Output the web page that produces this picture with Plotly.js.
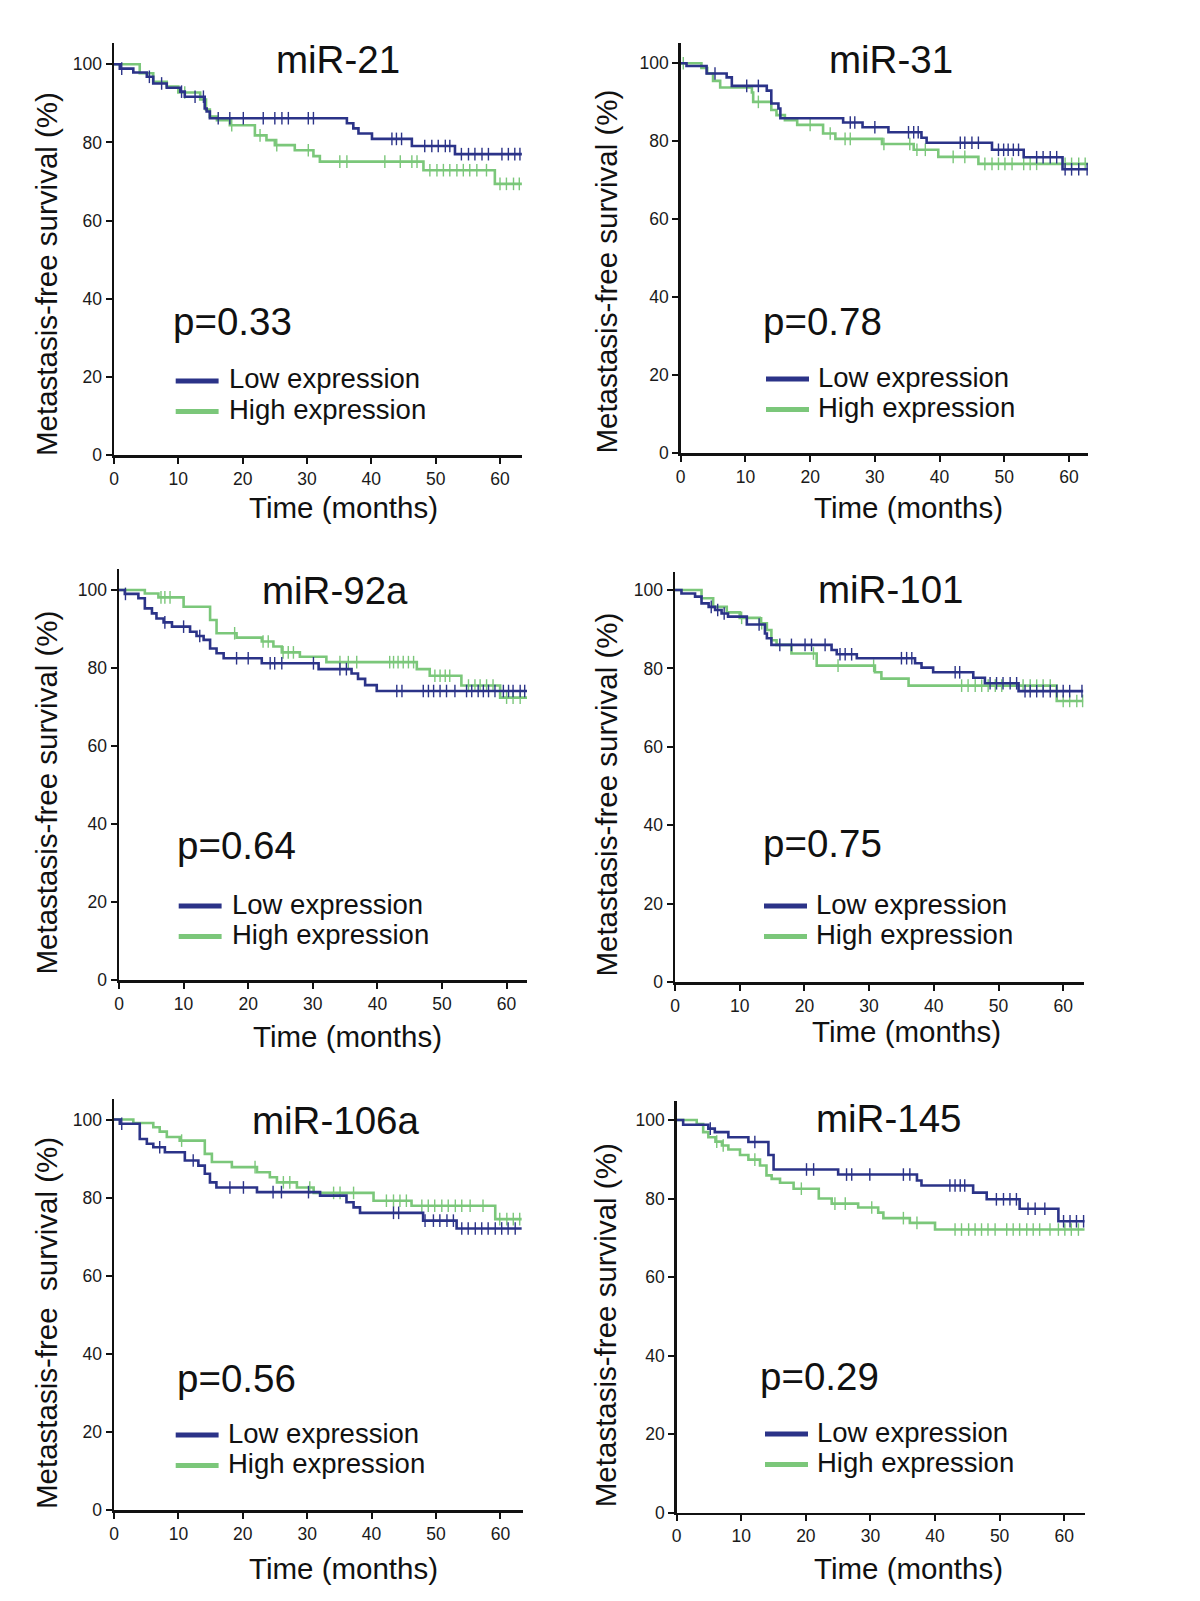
<!DOCTYPE html>
<html>
<head>
<meta charset="utf-8">
<script src="https://cdn.plot.ly/plotly-3.0.1.min.js"></script>
<style>html,body{margin:0;padding:0;background:#fff;}#chart{width:1200px;height:1601px;}</style>
</head>
<body>
<div id="chart"></div>
<script>
// ---------------- DATA ----------------
const panelNames = ['miR-21', 'miR-31', 'miR-92a', 'miR-101', 'miR-106a', 'miR-145'];
const pValueLabels = ['p=0.33', 'p=0.78', 'p=0.64', 'p=0.75', 'p=0.56', 'p=0.29'];
const seriesNames = ['Low expression', 'High expression'];
const xTickVals = [0, 10, 20, 30, 40, 50, 60];
const yTickVals = [0, 20, 40, 60, 80, 100];
const xAxisTitle = 'Time (months)';
const yAxisTitles = ['Metastasis-free survival (%)', 'Metastasis-free survival (%)', 'Metastasis-free survival (%)',
  'Metastasis-free survival (%)', 'Metastasis-free\u00a0 survival (%)', 'Metastasis-free survival (%)'];

// miR-21
const mir21LowT = [0, 0.9, 3.0, 5.1, 6.1, 8.2, 10.3, 11.0, 14.1, 14.4, 14.9, 36.2, 37.2, 38.0, 40.1, 46.3, 53.0, 63.4];
const mir21LowS = [100, 98.9, 97.9, 96.8, 95.1, 94.0, 93.0, 91.7, 88.7, 87.9, 86.2, 84.9, 83.6, 82.3, 80.9, 79.1, 77.0, 77.0];
const mir21LowCensor = [1.2, 5.5, 7.4, 10.5, 12.6, 13.9, 16.2, 18.0, 20.1, 23.2, 25.0, 26.1, 27.1, 30.2, 31.0, 43.2, 43.9, 44.7, 48.3, 49.4, 50.4, 51.5, 52.2, 54.0, 55.1, 56.1, 57.2, 58.2, 60.3, 61.3, 62.3, 63.1];
const mir21HighT = [0, 4.0, 6.1, 8.2, 10.0, 13.4, 14.3, 14.9, 16.0, 18.0, 21.9, 23.7, 25.0, 28.1, 31.0, 32.0, 48.1, 59.2, 63.4];
const mir21HighS = [100, 97.7, 95.5, 94.3, 92.8, 91.0, 88.4, 86.6, 85.7, 84.4, 81.8, 80.6, 79.3, 78.0, 76.5, 75.1, 72.9, 69.4, 69.4];
const mir21HighCensor = [11.0, 18.3, 22.7, 25.3, 30.2, 35.1, 36.2, 42.1, 44.5, 46.3, 47.1, 49.1, 50.2, 51.2, 52.2, 53.3, 54.3, 55.3, 56.4, 57.9, 60.0, 61.0, 62.1, 63.0];

// miR-31
const mir31LowT = [0, 0.9, 4.0, 7.1, 7.9, 13.3, 14.0, 15.1, 15.4, 25.1, 28.1, 32.1, 37.2, 38.0, 48.1, 53.0, 59.0, 63.0];
const mir31LowS = [100, 99.3, 97.4, 96.4, 94.2, 93.0, 89.7, 88.4, 85.9, 84.8, 83.6, 82.3, 80.9, 79.6, 77.8, 75.9, 72.8, 72.8];
const mir31LowCensor = [5.3, 10.2, 12.0, 26.2, 26.9, 30.0, 35.2, 36.0, 36.7, 43.2, 43.9, 45.0, 46.0, 49.1, 49.9, 50.6, 51.4, 52.2, 55.0, 56.0, 57.1, 58.1, 59.4, 60.4, 61.5, 62.8];
const mir31HighT = [0, 3.2, 4.1, 5.0, 6.1, 11.0, 11.2, 14.0, 14.8, 16.1, 18.0, 22.0, 23.9, 31.1, 36.0, 39.8, 46.0, 63.0];
const mir31HighS = [100, 98.8, 97.4, 95.5, 93.8, 92.5, 90.1, 88.0, 86.7, 85.4, 84.2, 82.0, 80.6, 79.3, 77.8, 76.0, 74.2, 74.2];
const mir31HighCensor = [0.4, 12.0, 20.0, 23.1, 25.4, 26.2, 31.4, 35.4, 36.5, 37.8, 42.1, 43.9, 47.0, 48.1, 49.1, 50.1, 51.2, 53.0, 54.0, 55.0, 59.4, 60.4, 61.5, 62.5];

// miR-92a
const mir92aLowT = [0, 0.9, 3.0, 4.0, 5.1, 5.8, 6.9, 8.2, 11.0, 12.0, 13.1, 14.1, 15.1, 16.2, 22.1, 30.9, 36.0, 37.0, 38.1, 39.9, 63.2];
const mir92aLowS = [100, 99.0, 97.9, 95.3, 94.0, 92.7, 91.7, 90.6, 89.3, 88.2, 87.2, 85.0, 83.8, 82.5, 81.2, 79.7, 78.6, 77.2, 75.6, 74.1, 74.1];
const mir92aLowCensor = [1.0, 7.1, 10.0, 12.5, 18.2, 20.0, 23.4, 24.1, 25.2, 30.1, 34.2, 35.2, 43.0, 43.8, 47.1, 47.9, 48.7, 49.7, 50.7, 52.0, 53.8, 54.6, 55.6, 56.4, 57.2, 58.2, 59.5, 60.3, 61.0, 62.1, 62.8];
const mir92aHighT = [0, 4.0, 6.1, 10.0, 14.1, 15.1, 18.2, 22.1, 23.9, 25.2, 28.0, 32.1, 46.1, 48.1, 53.0, 59.0, 63.2];
const mir92aHighS = [100, 99.1, 98.1, 95.7, 92.3, 88.9, 87.8, 86.8, 85.5, 84.0, 82.9, 81.5, 79.7, 78.0, 75.5, 72.4, 72.4];
const mir92aHighCensor = [6.5, 7.1, 7.9, 17.9, 22.3, 23.1, 25.4, 26.2, 27.0, 34.2, 35.5, 36.8, 41.9, 42.5, 43.2, 44.0, 44.8, 45.6, 48.9, 49.7, 50.5, 51.2, 54.1, 55.1, 55.9, 56.9, 57.9, 60.0, 61.0, 62.1];

// miR-101
const mir101LowT = [0, 1.0, 3.1, 4.1, 5.2, 6.2, 7.2, 8.2, 11.1, 13.9, 14.2, 14.9, 24.2, 25.0, 28.1, 37.1, 38.1, 39.9, 46.1, 47.9, 53.1, 63.1];
const mir101LowS = [100, 99.1, 98.3, 96.6, 95.7, 94.9, 94.0, 93.2, 91.2, 88.9, 87.7, 86.0, 84.7, 83.6, 82.6, 81.3, 80.2, 79.0, 77.6, 76.2, 74.2, 74.2];
const mir101LowCensor = [5.6, 6.6, 7.6, 13.0, 16.2, 18.0, 20.1, 21.1, 23.2, 25.5, 26.3, 27.3, 35.0, 35.8, 36.6, 43.3, 44.0, 48.7, 49.7, 50.7, 51.8, 52.8, 54.1, 54.9, 55.9, 56.9, 58.0, 59.0, 60.0, 61.0, 62.9];
const mir101HighT = [0, 4.1, 5.9, 8.0, 10.0, 13.1, 14.2, 14.9, 15.7, 18.0, 21.9, 30.9, 31.9, 36.1, 59.0, 63.1];
const mir101HighS = [100, 97.9, 95.7, 94.3, 92.9, 91.5, 89.8, 87.2, 86.0, 83.8, 80.7, 79.0, 77.4, 75.6, 71.7, 71.7];
const mir101HighCensor = [10.3, 13.4, 21.4, 25.2, 30.7, 44.3, 45.3, 46.4, 47.4, 48.4, 49.5, 50.5, 53.8, 54.9, 55.9, 56.9, 58.0, 60.0, 61.0, 62.1, 63.0];

// miR-106a
const mir106aLowT = [0, 0.9, 4.0, 5.1, 6.1, 7.9, 11.0, 13.1, 14.1, 14.9, 15.9, 22.2, 32.0, 36.1, 37.2, 38.2, 48.0, 53.2, 63.3];
const mir106aLowS = [100, 98.9, 95.0, 93.8, 92.9, 91.6, 89.5, 88.2, 86.1, 83.9, 82.6, 81.4, 80.5, 78.8, 77.5, 76.1, 74.1, 72.1, 72.1];
const mir106aLowCensor = [1.2, 7.1, 12.3, 18.0, 20.1, 24.7, 26.0, 30.2, 43.4, 44.2, 48.3, 49.6, 50.6, 51.7, 52.7, 54.0, 55.0, 56.1, 57.1, 58.1, 59.2, 60.2, 61.2, 62.3];
const mir106aHighT = [0, 3.0, 6.1, 7.1, 8.2, 10.2, 14.1, 15.2, 18.3, 22.2, 24.2, 25.3, 28.4, 31.0, 40.3, 46.2, 59.2, 63.3];
const mir106aHighS = [100, 99.1, 98.0, 96.9, 95.5, 94.6, 91.2, 89.1, 87.8, 86.5, 85.2, 83.9, 82.6, 81.2, 79.2, 77.9, 74.5, 74.5];
const mir106aHighCensor = [10.5, 21.9, 26.3, 27.3, 30.4, 34.1, 35.1, 37.2, 42.3, 43.4, 44.4, 45.4, 47.8, 48.8, 49.8, 50.9, 51.9, 53.0, 54.0, 55.3, 57.3, 59.9, 61.0, 62.0, 63.0];

// miR-145
const mir145LowT = [0, 1.0, 4.9, 5.9, 8.0, 11.1, 14.2, 15.0, 25.0, 37.2, 37.9, 45.9, 48.0, 53.1, 59.1, 63.2];
const mir145LowS = [100, 98.8, 97.8, 96.9, 95.6, 94.4, 91.1, 87.4, 86.1, 84.6, 83.3, 81.5, 79.8, 77.4, 74.2, 74.2];
const mir145LowCensor = [5.2, 12.1, 20.1, 21.2, 26.3, 27.1, 29.9, 35.1, 36.1, 42.3, 43.1, 43.9, 44.6, 49.5, 50.6, 51.6, 52.6, 54.4, 55.5, 57.0, 59.9, 60.9, 61.9, 63.0];
const mir145HighT = [0, 3.1, 4.1, 4.9, 6.0, 7.0, 8.0, 9.8, 11.1, 12.9, 13.9, 14.7, 16.0, 18.1, 22.0, 24.0, 28.1, 31.2, 32.0, 36.1, 40.0, 63.2];
const mir145HighS = [100, 99.0, 96.9, 95.6, 94.5, 93.5, 92.5, 91.1, 89.9, 88.4, 85.9, 85.0, 84.0, 82.5, 80.0, 78.7, 77.7, 76.4, 75.0, 73.8, 72.1, 72.1];
const mir145HighCensor = [6.2, 7.2, 12.1, 19.3, 24.5, 26.1, 30.2, 35.1, 37.2, 43.1, 44.1, 45.2, 46.2, 47.2, 48.2, 49.3, 51.1, 52.1, 53.1, 54.2, 55.2, 56.2, 57.8, 59.1, 60.1, 61.1, 62.2];

const lowTimes = [mir21LowT, mir31LowT, mir92aLowT, mir101LowT, mir106aLowT, mir145LowT];
const lowSurv = [mir21LowS, mir31LowS, mir92aLowS, mir101LowS, mir106aLowS, mir145LowS];
const lowCensor = [mir21LowCensor, mir31LowCensor, mir92aLowCensor, mir101LowCensor, mir106aLowCensor, mir145LowCensor];
const highTimes = [mir21HighT, mir31HighT, mir92aHighT, mir101HighT, mir106aHighT, mir145HighT];
const highSurv = [mir21HighS, mir31HighS, mir92aHighS, mir101HighS, mir106aHighS, mir145HighS];
const highCensor = [mir21HighCensor, mir31HighCensor, mir92aHighCensor, mir101HighCensor, mir106aHighCensor, mir145HighCensor];

// ---------------- STYLE / LAYOUT ----------------
const W = 1200, H = 1601;
const FONT = 'Liberation Sans, Arial, Helvetica, sans-serif';
const LOW_COLOR = '#2b3388';
const HIGH_COLOR = '#7bc77a';
const AXIS_COLOR = '#111111';

// panel pixel geometry (axis origin, 60-month tick, axis ends)
const geom = [
  {x0: 114, x60: 500, xEnd: 522, y0: 455, y100: 64.3, yTop: 43},
  {x0: 680.7, x60: 1069, xEnd: 1088, y0: 453, y100: 63.3, yTop: 43},
  {x0: 119, x60: 506.6, xEnd: 527, y0: 980, y100: 590, yTop: 569},
  {x0: 675, x60: 1063.2, xEnd: 1083.6, y0: 982, y100: 590, yTop: 572},
  {x0: 114, x60: 500.4, xEnd: 523, y0: 1510, y100: 1119.5, yTop: 1099},
  {x0: 676.7, x60: 1064.2, xEnd: 1084.6, y0: 1512.6, y100: 1120, yTop: 1101}
];
// text placement in pixels
const titlePos = [[338, 59], [890.6, 59], [335, 590], [890.6, 589], [335, 1120], [888.5, 1118]];
const pPos = [[171, 321.7], [761, 321.7], [175, 845.6], [761, 843.6], [175, 1378.8], [758, 1376.7]];
const legendPos = [ // swatch x0, x1, low y, high y, text left
  [175.7, 218.6, 381, 411.6, 226.5],
  [766, 809, 379, 409.5, 816],
  [178.7, 221.6, 906, 936.5, 229.5],
  [764, 807, 906, 936.5, 814],
  [175.7, 218.6, 1435, 1465.6, 225.5],
  [765, 808, 1434, 1464.6, 815]
];
const xTitlePos = [[343, 507.6], [909, 507.6], [347, 1036.6], [906, 1031.5], [343, 1568.7], [908, 1568.7]];
const yTitlePos = [[46, 274], [605.6, 272], [46, 792.5], [605.6, 795], [46, 1323], [605.6, 1325.6]];

const px = v => v / W;
const py = v => 1 - v / H;

function stepValue(times, surv, t) {
  let v = surv[0];
  for (let i = 0; i < times.length; i++) { if (times[i] <= t) v = surv[i]; }
  return v;
}

const data = [];
const layout = {
  width: W, height: H,
  margin: {l: 0, r: 0, t: 0, b: 0},
  paper_bgcolor: '#ffffff', plot_bgcolor: 'rgba(0,0,0,0)',
  showlegend: false,
  font: {family: FONT, color: '#111'},
  annotations: [], shapes: []
};

for (let i = 0; i < 6; i++) {
  const g = geom[i];
  const sfx = i === 0 ? '' : String(i + 1);
  const xa = 'x' + sfx, ya = 'y' + sfx;
  const xMax = 60 * (g.xEnd - g.x0) / (g.x60 - g.x0);
  const yMax = 100 * (g.y0 - g.yTop) / (g.y0 - g.y100);

  const axisCommon = {
    showline: true, linecolor: AXIS_COLOR, linewidth: 2.5,
    ticks: 'outside', ticklen: 6, tickwidth: 2, tickcolor: AXIS_COLOR,
    showgrid: false, zeroline: false, fixedrange: true,
    tickfont: {family: FONT, size: 17.5, color: '#1a1a1a'},
    tickmode: 'array'
  };
  layout['xaxis' + sfx] = Object.assign({}, axisCommon, {
    domain: [px(g.x0), px(g.xEnd)], range: [0, xMax], anchor: ya,
    tickvals: xTickVals, ticktext: xTickVals.map(String)
  });
  layout['yaxis' + sfx] = Object.assign({}, axisCommon, {
    domain: [py(g.y0), py(g.yTop)], range: [0, yMax], anchor: xa,
    tickvals: yTickVals, ticktext: yTickVals.map(String)
  });

  const groups = [
    {t: highTimes[i], s: highSurv[i], c: highCensor[i], color: HIGH_COLOR, name: seriesNames[1]},
    {t: lowTimes[i], s: lowSurv[i], c: lowCensor[i], color: LOW_COLOR, name: seriesNames[0]}
  ];
  groups.forEach(gr => {
    data.push({
      type: 'scatter', mode: 'lines', x: gr.t, y: gr.s, xaxis: xa, yaxis: ya,
      line: {shape: 'hv', color: gr.color, width: 2.6}, name: gr.name, hoverinfo: 'skip', cliponaxis: false
    });
    data.push({
      type: 'scatter', mode: 'markers', x: gr.c, y: gr.c.map(t => stepValue(gr.t, gr.s, t)),
      xaxis: xa, yaxis: ya, name: gr.name + ' (censored)',
      marker: {symbol: 'line-ns-open', size: 9, color: gr.color, line: {color: gr.color, width: 1.4}},
      hoverinfo: 'skip', cliponaxis: false
    });
  });

  // panel title
  layout.annotations.push({
    xref: 'paper', yref: 'paper', x: px(titlePos[i][0]), y: py(titlePos[i][1]),
    xanchor: 'center', yanchor: 'middle', showarrow: false,
    text: panelNames[i], font: {family: FONT, size: 38.5, color: '#111'}
  });
  // p value
  layout.annotations.push({
    xref: 'paper', yref: 'paper', x: px(pPos[i][0]), y: py(pPos[i][1]),
    xanchor: 'left', yanchor: 'middle', showarrow: false,
    text: pValueLabels[i], font: {family: FONT, size: 38.5, color: '#111'}
  });
  // legend
  const L = legendPos[i];
  [[L[2], LOW_COLOR, seriesNames[0]], [L[3], HIGH_COLOR, seriesNames[1]]].forEach(([yy, col, label]) => {
    layout.shapes.push({
      type: 'line', xref: 'paper', yref: 'paper',
      x0: px(L[0]), x1: px(L[1]), y0: py(yy), y1: py(yy),
      line: {color: col, width: 5}
    });
    layout.annotations.push({
      xref: 'paper', yref: 'paper', x: px(L[4]), y: py(yy - 2),
      xanchor: 'left', yanchor: 'middle', showarrow: false,
      text: label, font: {family: FONT, size: 27.5, color: '#111'}
    });
  });
  // axis titles
  layout.annotations.push({
    xref: 'paper', yref: 'paper', x: px(xTitlePos[i][0]), y: py(xTitlePos[i][1]),
    xanchor: 'center', yanchor: 'middle', showarrow: false,
    text: xAxisTitle, font: {family: FONT, size: 29.5, color: '#111'}
  });
  layout.annotations.push({
    xref: 'paper', yref: 'paper', x: px(yTitlePos[i][0]), y: py(yTitlePos[i][1]),
    xanchor: 'center', yanchor: 'middle', showarrow: false, textangle: -90,
    text: yAxisTitles[i], font: {family: FONT, size: 29.5, color: '#111'}
  });
}

Plotly.newPlot('chart', data, layout, {displayModeBar: false, staticPlot: true});
</script>
</body>
</html>
